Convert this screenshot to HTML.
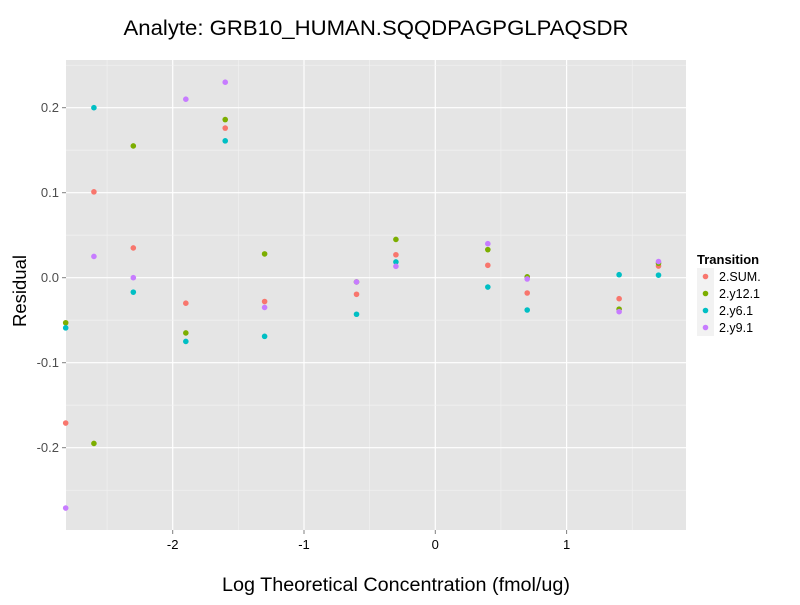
<!DOCTYPE html>
<html><head><meta charset="utf-8"><style>
body{margin:0;background:#fff;font-family:"Liberation Sans",sans-serif}
</style></head><body>
<svg id="chart" width="800" height="600" xmlns="http://www.w3.org/2000/svg">
<text x="376" y="35" font-size="21" text-anchor="middle" textLength="505" lengthAdjust="spacingAndGlyphs">Analyte: GRB10_HUMAN.SQQDPAGPGLPAQSDR</text>
<rect x="66" y="60" width="620" height="470" fill="#e5e5e5"/>
<g id="grid"></g><g id="pts"></g><g id="axes"></g>
<text x="396" y="591" font-size="19" text-anchor="middle" textLength="348" lengthAdjust="spacingAndGlyphs">Log Theoretical Concentration (fmol/ug)</text>
<text transform="translate(26,291) rotate(-90)" font-size="18.5" text-anchor="middle" textLength="72" lengthAdjust="spacingAndGlyphs">Residual</text>
<g id="legend"><text x="697" y="264" font-size="13" font-weight="bold">Transition</text></g>
</svg>
<script>
const series=["2.SUM.","2.y12.1","2.y6.1","2.y9.1"];
const colors=["#f8766d","#7cae00","#00bfc4","#c77cff"];
const xs=[-2.815,-2.6,-2.3,-1.9,-1.6,-1.3,-0.6,-0.3,0.4,0.7,1.4,1.7];
const sumVals=[-0.171,0.101,0.035,-0.030,0.176,-0.028,-0.0195,0.027,0.0146,-0.018,-0.0247,0.0137];
const y12Vals=[-0.053,-0.195,0.155,-0.065,0.186,0.028,-0.005,0.045,0.033,0.001,-0.037,0.017];
const y6Vals=[-0.059,0.200,-0.017,-0.075,0.161,-0.069,-0.043,0.0185,-0.011,-0.038,0.0035,0.003];
const y9Vals=[-0.271,0.025,0.000,0.210,0.230,-0.035,-0.005,0.0134,0.040,-0.0015,-0.040,0.019];
const xTicks=[-2,-1,0,1];
const yTicks=[-0.2,-0.1,0.0,0.1,0.2];
const yTickLabels=["-0.2","-0.1","0.0","0.1","0.2"];
const X=v=>435.3+v*131.3, Y=v=>277.7-v*850;
const NS="http://www.w3.org/2000/svg";
function mk(t,a,p){const e=document.createElementNS(NS,t);for(const k in a)e.setAttribute(k,a[k]);p.appendChild(e);return e;}
const grid=document.getElementById('grid'),axes=document.getElementById('axes'),pts=document.getElementById('pts');
for(let i=0;i<xTicks.length;i++){const v=xTicks[i];
 const m=v-0.5;if(X(m)>66){const g=mk('line',{x1:X(m),x2:X(m),y1:60,y2:530,stroke:'#f2f2f2','stroke-width':0.6},grid);}
 const l=mk('line',{x1:X(v),x2:X(v),y1:60,y2:530,stroke:'#fff','stroke-width':1.2},grid);
 
 mk('line',{x1:X(v),x2:X(v),y1:530,y2:534,stroke:'#7f7f7f'},axes);
 const t=mk('text',{x:X(v),y:549,'font-size':13,'text-anchor':'middle',fill:'#000'},axes);t.textContent=v;
 }
{const m=1.5;const g=mk('line',{x1:X(m),x2:X(m),y1:60,y2:530,stroke:'#f2f2f2','stroke-width':0.6},grid);}
for(let i=0;i<yTicks.length;i++){const v=yTicks[i];
 [v-0.05,v+0.05].forEach(m=>{if(Y(m)>60&&Y(m)<530){const g=mk('line',{x1:66,x2:686,y1:Y(m),y2:Y(m),stroke:'#f2f2f2','stroke-width':0.6},grid);}});
 const l=mk('line',{x1:66,x2:686,y1:Y(v),y2:Y(v),stroke:'#fff','stroke-width':1.2},grid);
 
 mk('line',{x1:62,x2:66,y1:Y(v),y2:Y(v),stroke:'#7f7f7f'},axes);
 const t=mk('text',{x:59,y:Y(v)+4.5,'font-size':13,'text-anchor':'end',fill:'#4d4d4d'},axes);t.textContent=yTickLabels[i];
 }
const all=[sumVals,y12Vals,y6Vals,y9Vals];
all.forEach((vals,s)=>vals.forEach((v,i)=>{
 const c=mk('circle',{cx:X(xs[i]),cy:Y(v),r:2.8,fill:colors[s]},pts);
 }));
const lg=document.getElementById('legend');
series.forEach((n,i)=>{const y=268+i*17;
 const r=mk('rect',{x:697,y:y,width:17,height:17,fill:'#f2f2f2'},lg);
 const c=mk('circle',{cx:705.5,cy:y+8.5,r:2.8,fill:colors[i]},lg);
 const t=mk('text',{x:719,y:y+13,'font-size':12.5},lg);t.textContent=n;});
</script>
</body></html>
